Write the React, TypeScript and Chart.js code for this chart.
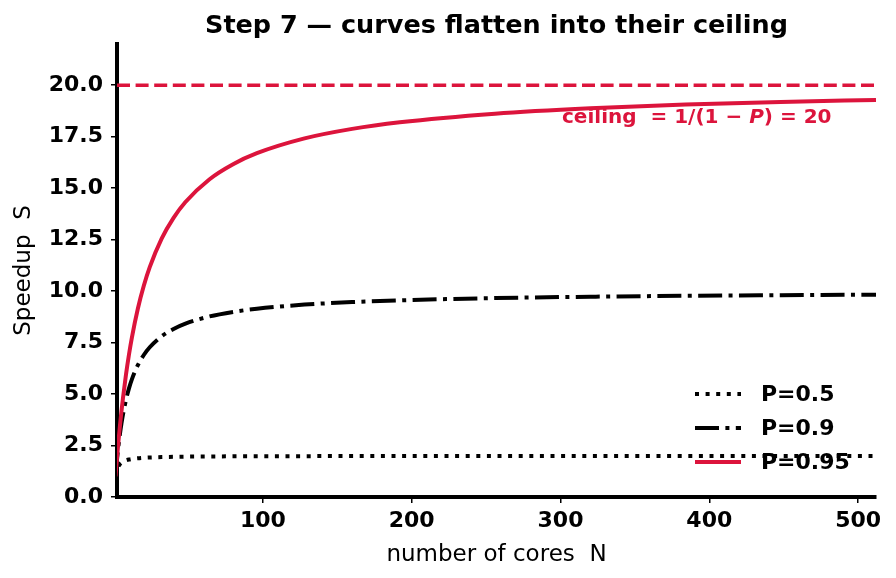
import React, { useEffect, useRef } from "react";
import { Chart, registerables } from "chart.js";
Chart.register(...registerables);

const cores = [1, 2, 3, 4, 5, 6, 8, 10, 12, 16, 20, 24, 32, 40, 48, 64, 80, 96, 128, 160, 192, 256, 320, 384, 448, 512];
const speedupP50 = [1.0, 1.333, 1.5, 1.6, 1.667, 1.714, 1.778, 1.818, 1.846, 1.882, 1.905, 1.92, 1.939, 1.951, 1.959, 1.969, 1.975, 1.979, 1.984, 1.988, 1.99, 1.992, 1.994, 1.995, 1.996, 1.996];
const speedupP90 = [1.0, 1.818, 2.5, 3.077, 3.571, 4.0, 4.706, 5.263, 5.714, 6.4, 6.897, 7.273, 7.805, 8.163, 8.421, 8.767, 8.989, 9.143, 9.343, 9.467, 9.552, 9.66, 9.726, 9.771, 9.803, 9.827];
const speedupP95 = [1.0, 1.905, 2.727, 3.478, 4.167, 4.8, 5.926, 6.897, 7.742, 9.143, 10.256, 11.163, 12.549, 13.559, 14.328, 15.422, 16.162, 16.696, 17.415, 17.877, 18.199, 18.618, 18.879, 19.057, 19.186, 19.284];
const ceilingValue = 20;
const xRange = [2, 512];
const yRange = [0, 22];
const xTicks = [100, 200, 300, 400, 500];
const yTicks = [0, 2.5, 5, 7.5, 10, 12.5, 15, 17.5, 20];
const seriesLabels = ["P=0.5", "P=0.9", "P=0.95"];
const titleText = "Step 7 — curves flatten into their ceiling";
const xLabel = "number of cores  N";
const yLabel = "Speedup  S";

const CRIMSON = "#DC143C";
const FONT = "'DejaVu Sans', sans-serif";
const DOT = [4, 6.6];
const DASHDOT = [24, 6.4, 4, 6.4];
const DASH = [13, 5.6];

const toPts = (ys: number[]) => cores.map((x, i) => ({ x, y: ys[i] }));

const overlay = {
  id: "overlay",
  afterDraw(chart: any) {
    const ctx = chart.ctx;
    const ca = chart.chartArea;
    const cx = (ca.left + ca.right) / 2;
    ctx.save();
    // title
    ctx.fillStyle = "#000";
    ctx.font = `bold 25.5px ${FONT}`;
    ctx.textAlign = "center";
    ctx.textBaseline = "alphabetic";
    ctx.fillText(titleText, cx, 33);
    // x label
    ctx.font = `23px ${FONT}`;
    ctx.fillText(xLabel, cx, 561);
    // y label
    ctx.save();
    ctx.translate(30, (ca.top + ca.bottom) / 2);
    ctx.rotate(-Math.PI / 2);
    ctx.fillText(yLabel, 0, 0);
    ctx.restore();
    // ceiling annotation
    ctx.fillStyle = CRIMSON;
    ctx.textAlign = "left";
    let x = 562;
    const by = 123;
    const parts: [string, string][] = [
      ["ceiling  = 1/(1 − ", `bold 20px ${FONT}`],
      ["P", `italic bold 20px ${FONT}`],
      [") = 20", `bold 20px ${FONT}`],
    ];
    for (const [t, f] of parts) {
      ctx.font = f;
      ctx.fillText(t, x, by);
      x += ctx.measureText(t).width;
    }
    // legend
    const rows = [
      { label: seriesLabels[0], color: "#000", dash: DOT, y: 394 },
      { label: seriesLabels[1], color: "#000", dash: DASHDOT, y: 428 },
      { label: seriesLabels[2], color: CRIMSON, dash: [], y: 462 },
    ];
    for (const r of rows) {
      ctx.beginPath();
      ctx.setLineDash(r.dash);
      ctx.lineCap = "butt";
      ctx.lineWidth = 4;
      ctx.strokeStyle = r.color;
      ctx.moveTo(695, r.y);
      ctx.lineTo(741, r.y);
      ctx.stroke();
      ctx.setLineDash([]);
      ctx.fillStyle = "#000";
      ctx.font = `bold 22px ${FONT}`;
      ctx.textBaseline = "middle";
      ctx.fillText(r.label, 761, r.y + 1);
    }
    ctx.restore();
  },
};

export default function App() {
  const ref = useRef<HTMLCanvasElement | null>(null);
  useEffect(() => {
    if (!ref.current) return;
    const tickFont = { family: FONT, size: 22, weight: "bold" as const };
    const chart = new Chart(ref.current, {
      type: "line",
      data: {
        datasets: [
          {
            label: seriesLabels[2],
            data: toPts(speedupP95),
            borderColor: CRIMSON,
            borderWidth: 4,
            pointRadius: 0,
            cubicInterpolationMode: "monotone",
            order: 0,
          },
          {
            label: "ceiling",
            data: [{ x: xRange[0], y: ceilingValue }, { x: xRange[1], y: ceilingValue }],
            borderColor: CRIMSON,
            borderWidth: 3.5,
            borderDash: DASH,
            borderCapStyle: "butt",
            pointRadius: 0,
            order: 1,
          },
          {
            label: seriesLabels[1],
            data: toPts(speedupP90),
            borderColor: "#000",
            borderWidth: 4,
            borderDash: DASHDOT,
            borderCapStyle: "butt",
            pointRadius: 0,
            cubicInterpolationMode: "monotone",
            order: 2,
          },
          {
            label: seriesLabels[0],
            data: toPts(speedupP50),
            borderColor: "#000",
            borderWidth: 4,
            borderDash: DOT,
            borderCapStyle: "butt",
            pointRadius: 0,
            cubicInterpolationMode: "monotone",
            order: 3,
          },
        ] as any,
      },
      options: {
        animation: false,
        responsive: false,
        layout: { padding: { top: 44, right: 20, left: 0, bottom: 0 } },
        plugins: { legend: { display: false }, title: { display: false }, tooltip: { enabled: false } },
        scales: {
          x: {
            type: "linear",
            min: xRange[0],
            max: xRange[1],
            afterBuildTicks: (s: any) => { s.ticks = xTicks.map((v) => ({ value: v })); },
            afterFit: (s: any) => { s.height = 81; s.paddingLeft = 0; s.paddingRight = 0; },
            grid: { display: true, drawOnChartArea: false, drawTicks: true, tickLength: 6, color: "#000", lineWidth: 1.5 },
            border: { display: true, color: "#000", width: 4 },
            ticks: { color: "#000", font: tickFont, padding: 5, maxRotation: 0, autoSkip: false, callback: (v: any) => String(v) },
          },
          y: {
            type: "linear",
            min: yRange[0],
            max: yRange[1],
            afterBuildTicks: (s: any) => { s.ticks = yTicks.map((v) => ({ value: v })); },
            afterFit: (s: any) => { s.width = 117; s.paddingTop = 0; s.paddingBottom = 0; },
            grid: { display: true, drawOnChartArea: false, drawTicks: true, tickLength: 6, color: "#000", lineWidth: 1.5 },
            border: { display: true, color: "#000", width: 4 },
            ticks: { color: "#000", font: tickFont, padding: 8, autoSkip: false, callback: (v: any) => Number(v).toFixed(1) },
          },
        },
      },
      plugins: [overlay],
    } as any);
    return () => chart.destroy();
  }, []);
  return (
    <div style={{ position: "fixed", left: 0, top: 0, width: 896, height: 578, background: "#fff" }}>
      <canvas ref={ref} width={896} height={578} style={{ display: "block" }} />
    </div>
  );
}
